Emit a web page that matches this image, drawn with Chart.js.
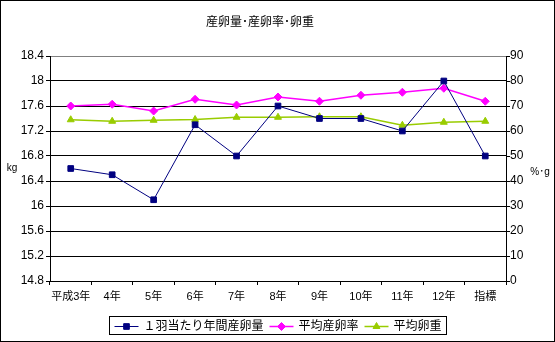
<!DOCTYPE html>
<html lang="ja">
<head>
<meta charset="UTF-8">
<title>産卵量･産卵率･卵重</title>
<script src="https://cdn.jsdelivr.net/npm/chart.js"></script>
<style>
    html, body {
        margin: 0;
        padding: 0;
        background: #fff;
    }
    .frame {
        width: 555px;
        height: 342px;
        box-sizing: border-box;
        border: 1px solid #000;
    }
    canvas {
        display: block;
    }
</style>
</head>
<body>
<div class="frame"><canvas id="eggChart" width="553" height="340"></canvas></div>
<script>
const years = ['平成3年', '4年', '5年', '6年', '7年', '8年', '9年', '10年', '11年', '12年', '指標'];
// kg per hen per year (left axis)
const eggMass = [16.6, 16.5, 16.1, 17.3, 16.8, 17.6, 17.4, 17.4, 17.2, 18.0, 16.8];
// % (right axis)
const layingRate = [70.0, 70.7, 68.0, 72.7, 70.4, 73.6, 71.9, 74.3, 75.5, 77.1, 71.9];
// g (right axis)
const eggWeight = [64.5, 63.9, 64.3, 64.6, 65.5, 65.5, 65.7, 65.7, 62.3, 63.5, 63.9];

const FONT = "'Liberation Sans', 'Noto Sans CJK JP', sans-serif";

function marker(ctx, style, r, color, x, y) {
    ctx.save();
    ctx.fillStyle = color;
    ctx.strokeStyle = color;
    ctx.lineWidth = 1;
    Chart.helpers.drawPoint(ctx, { pointStyle: style, radius: r, rotation: 0, borderWidth: 1 }, x, y);
    ctx.restore();
}

const textPlugin = {
    id: 'chartTexts',
    afterDraw(chart) {
        const ctx = chart.ctx;
        ctx.save();
        ctx.fillStyle = '#000';
        ctx.textBaseline = 'middle';

        // title
        ctx.font = '12px ' + FONT;
        ctx.textAlign = 'center';
        ctx.fillText('産卵量･産卵率･卵重', 259, 21.5);

        // axis units
        ctx.font = '10px ' + FONT;
        ctx.fillText('kg', 11, 167);
        ctx.fillText('%･g', 539, 171);

        // legend box under the x axis
        ctx.font = '12px ' + FONT;
        ctx.textAlign = 'left';
        const sample = 24, gap = 5, itemGap = 6, pad = 5;
        const items = chart.data.datasets.map(ds => ({ ds, w: ctx.measureText(ds.label).width }));
        let total = pad * 2 + itemGap * (items.length - 1);
        items.forEach(it => { total += sample + gap + it.w; });
        const boxTop = 315.5, boxH = 18;
        let x = Math.round(277 - total / 2) + 0.5;
        ctx.strokeStyle = '#000';
        ctx.lineWidth = 1;
        ctx.strokeRect(x, boxTop, Math.round(total), boxH);
        const cy = Math.round(boxTop + boxH / 2) + 0.5;
        x += pad;
        items.forEach(it => {
            const ds = it.ds;
            ctx.strokeStyle = ds.borderColor;
            ctx.lineWidth = ds.borderWidth;
            ctx.beginPath();
            ctx.moveTo(x, cy);
            ctx.lineTo(x + sample, cy);
            ctx.stroke();
            marker(ctx, ds.pointStyle, ds.pointRadius, ds.borderColor, x + sample / 2, cy);
            ctx.fillStyle = '#000';
            ctx.fillText(ds.label, x + sample + gap, cy + 0.5);
            x += sample + gap + it.w + itemGap;
        });
        ctx.restore();
    }
};

new Chart(document.getElementById('eggChart'), {
    type: 'line',
    data: {
        labels: years,
        datasets: [
            {
                label: '１羽当たり年間産卵量',
                data: eggMass,
                yAxisID: 'yKg',
                borderColor: '#000080',
                backgroundColor: '#000080',
                borderWidth: 1,
                pointStyle: 'rect',
                pointRadius: 4,
                pointBorderWidth: 1,
                tension: 0
            },
            {
                label: '平均産卵率',
                data: layingRate,
                yAxisID: 'yPct',
                borderColor: '#FF00FF',
                backgroundColor: '#FF00FF',
                borderWidth: 1.5,
                pointStyle: 'rectRot',
                pointRadius: 4,
                pointBorderWidth: 1,
                tension: 0
            },
            {
                label: '平均卵重',
                data: eggWeight,
                yAxisID: 'yPct',
                borderColor: '#99CC00',
                backgroundColor: '#99CC00',
                borderWidth: 1.5,
                pointStyle: 'triangle',
                pointRadius: 4,
                pointBorderWidth: 1,
                tension: 0
            }
        ]
    },
    options: {
        responsive: false,
        animation: false,
        layout: { padding: { top: 55, bottom: 36, left: 0, right: 0 } },
        plugins: {
            legend: { display: false },
            title: { display: false },
            tooltip: { enabled: false }
        },
        scales: {
            x: {
                type: 'category',
                offset: true,
                grid: { offset: true, drawOnChartArea: false, color: '#000', tickLength: 4 },
                border: { color: '#000' },
                ticks: { color: '#000', font: { family: FONT, size: 11 }, padding: 5, maxRotation: 0, autoSkip: false },
                afterFit(scale) { scale.height = 24; }
            },
            yKg: {
                position: 'left',
                min: 14.8,
                max: 18.4,
                grid: {
                    color: c => (c.tick && c.tick.value >= 18.39) ? '#808080' : '#000',
                    tickColor: '#000',
                    tickLength: 4
                },
                border: { color: '#000' },
                ticks: {
                    stepSize: 0.4,
                    color: '#000',
                    font: { family: FONT, size: 12 },
                    padding: 2,
                    callback: v => String(+v.toFixed(1))
                },
                afterFit(scale) { scale.width = 49; }
            },
            yPct: {
                position: 'right',
                min: 0,
                max: 90,
                grid: { drawOnChartArea: false, color: '#000', tickLength: 4 },
                border: { color: '#000' },
                ticks: {
                    stepSize: 10,
                    color: '#000',
                    font: { family: FONT, size: 12 },
                    padding: 0
                },
                afterFit(scale) { scale.width = 48; }
            }
        }
    },
    plugins: [textPlugin]
});
</script>
</body>
</html>
